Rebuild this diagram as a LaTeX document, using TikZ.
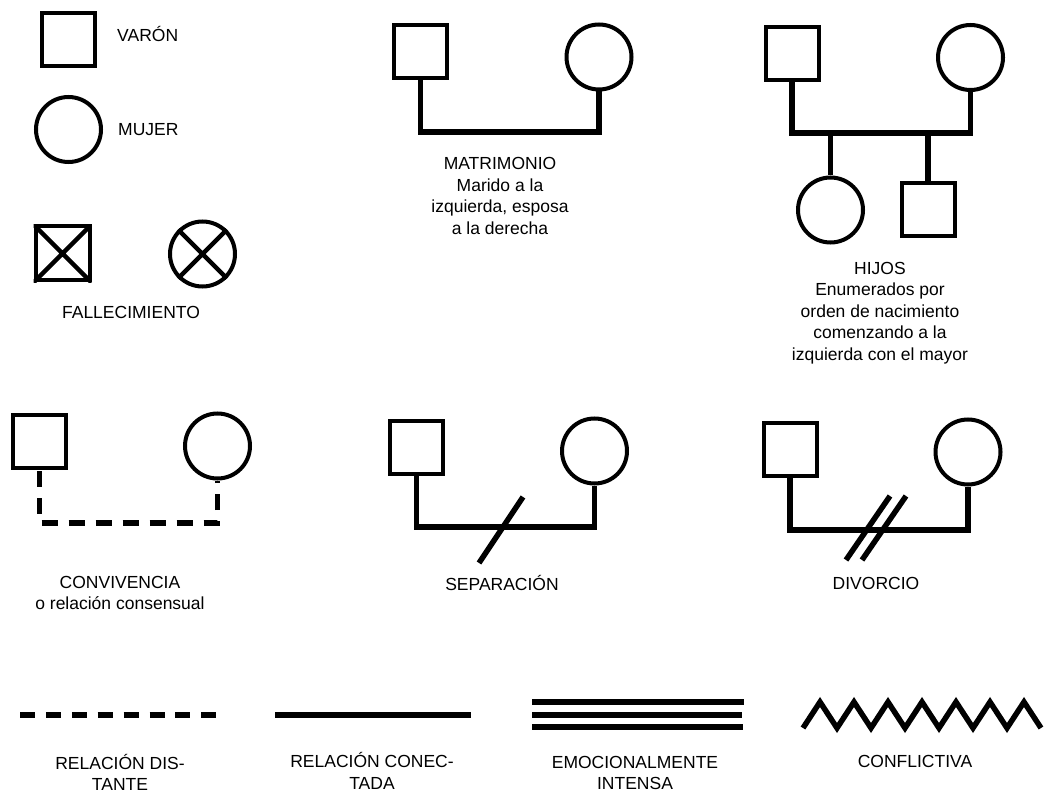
\documentclass[tikz,border=0pt]{standalone}
\usepackage{fontspec}
\setmainfont{Liberation Sans}
\begin{document}
\begin{tikzpicture}[x=1pt,y=-1pt,
  male/.style={draw, rectangle, line width=4pt, minimum size=53pt, inner sep=0pt},
  female/.style={draw, circle, line width=4pt, minimum size=65pt, inner sep=0pt},
  link/.style={line width=5.5pt, line join=miter},
  rel/.style={line width=6pt},
  lbl/.style={font=\fontsize{17.5}{21.5}\selectfont, align=center, inner sep=0pt},
  cross/.style={line width=4.5pt}]
\useasboundingbox (0,0) rectangle (1044,794);
% legend
\node[male] (m0) at (68.5,40) {};
\node[lbl, anchor=west] (t0) at (117,34) {VARÓN};
\node[female] (f0) at (68.5,129.5) {};
\node[lbl, anchor=west] (t1) at (118,130) {MUJER};
\node[male, minimum size=54pt] (dm) at (62.5,253.5) {};
\node[female] (df) at (202.5,254) {};
\begin{scope}
\clip (dm.north west) rectangle (dm.south east);
\draw[cross] (dm.north west) -- (dm.south east) (dm.north east) -- (dm.south west);
\end{scope}
\draw[cross] (df.north west) -- (df.south east) (df.north east) -- (df.south west);
\node[lbl] (t2) at (131,312) {FALLECIMIENTO};
% matrimonio
\node[male] (ma) at (420.5,51.5) {};
\node[female] (mw) at (599,57) {};
\draw[link] (ma.south) -- (ma.south |- 0,132) -- (mw.south |- 0,132) -- (mw.south);
\node[lbl] (t3) at (500,196) {MATRIMONIO\\Marido a la\\izquierda, esposa\\a la derecha};
% hijos
\node[male] (ha) at (792,53.5) {};
\node[female] (hw) at (970.5,57.5) {};
\node[female] (c1) at (830.5,210) {};
\node[male] (c2) at (928,210) {};
\draw[link] (ha.south) -- (ha.south |- 0,133) -- (hw.south |- 0,133) -- (hw.south);
\draw[link] (c1.north |- 0,133) -- (c1.north);
\draw[link] (c2.north |- 0,133) -- (c2.north);
\node[lbl] (t4) at (880,313) {HIJOS\\Enumerados por\\orden de nacimiento\\comenzando a la\\izquierda con el mayor};
% convivencia
\node[male] (ca) at (39.5,441.5) {};
\node[female] (cw) at (217.5,446) {};
\draw[link, dash pattern=on 16pt off 11pt, dash phase=-1pt] (ca.south) -- (ca.south |- 0,523) -- (cw.south |- 0,523) -- (cw.south);
\node[lbl] (t5) at (120,593) {CONVIVENCIA\\o relación consensual};
% separacion
\node[male] (sa) at (416.5,447) {};
\node[female] (sw) at (594.5,451) {};
\draw[link] (sa.south) -- (sa.south |- 0,527) -- (sw.south |- 0,527) -- (sw.south);
\coordinate (s1a) at (479,563);
\coordinate (s1b) at (523,497);
\draw[link] (s1a) -- (s1b);
\node[lbl] (t6) at (502,583) {SEPARACIÓN};
% divorcio
\node[male] (da) at (790,449.5) {};
\node[female] (dw) at (968,452) {};
\draw[link] (da.south) -- (da.south |- 0,530) -- (dw.south |- 0,530) -- (dw.south);
\coordinate (d1a) at (846,560);
\coordinate (d1b) at (890,496);
\coordinate (d2a) at (862,560);
\coordinate (d2b) at (906,496);
\draw[link] (d1a) -- (d1b) (d2a) -- (d2b);
\node[lbl] (t7) at (876,583) {DIVORCIO};
% relation lines
\draw[rel, dash pattern=on 15pt off 10.9pt] (20,715) -- (217,715);
\node[lbl] (t8) at (120,772.5) {RELACIÓN DIS-\\TANTE};
\draw[rel] (275,715) -- (471,715);
\node[lbl] (t9) at (372,771) {RELACIÓN CONEC-\\TADA};
\draw[rel] (532,702) -- (744,702);
\draw[rel] (532,715) -- (742,715);
\draw[rel] (532,727) -- (743,727);
\node[lbl] (t10) at (635,773) {EMOCIONALMENTE\\INTENSA};
\draw[line width=5.5pt, line join=miter] (803,728)
  \foreach \i in {0,...,6} { -- ({820+34*\i},702) -- ({837+34*\i},728) };
\node[lbl] (t11) at (915,761) {CONFLICTIVA};
\end{tikzpicture}
\end{document}
